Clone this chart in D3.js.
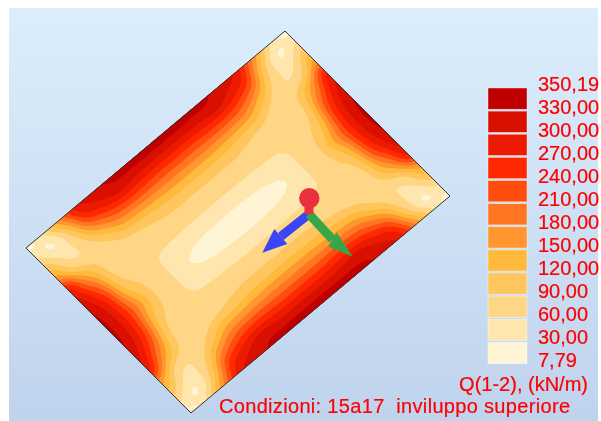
<!DOCTYPE html>
<html><head><meta charset="utf-8">
<script src="https://cdn.jsdelivr.net/npm/d3@7"></script>
<style>
html,body{margin:0;padding:0;background:#fff}
svg{display:block;filter:blur(0.35px)}
text{font-family:"Liberation Sans",Arial,sans-serif;fill:#ff0000;stroke:#ff0000;stroke-width:.2px;font-size:20px;white-space:pre}
</style></head><body>
<svg id="c" width="601" height="421"></svg>
<script>
const legendLabels=["350,19","330,00","300,00","270,00","240,00","210,00","180,00","150,00","120,00","90,00","60,00","30,00","7,79"];
const thresholds=[30,60,90,120,150,180,210,240,270,300,330];
const bandColors=["#FFF4D3","#FFE6AE","#FFD685","#FFC65E","#FFB93D","#FF962E","#FF7522","#FF4D0D","#FF2800","#EB1A00","#D90F00","#C00000"];
const titleUnit="Q(1-2), (kN/m)";
const titleCond="Condizioni: 15a17  inviluppo superiore";
// Estimated Q on one quarter of the plate: rows = |s| 0..1 (long axis), columns = |t| 0..1 (short axis)
const knots=[0,.125,.25,.375,.5,.625,.75,.875,1];
const quarterValues=[
 [10,33,59,78,112,168,232,300,350],
 [12,34,59,78,112,168,232,300,349],
 [18,36,60,78,110,165,236,303,345],
 [31,45,61,75,100,160,236,310,334],
 [60,60,63,70,90,148,218,285,318],
 [80,78,74,72,76,100,165,240,285],
 [155,132,108,92,82,66,78,110,170],
 [268,262,245,205,150,80,52,28,60],
 [338,335,325,305,270,170,108,58,18]
];
const svg=d3.select("#c");
const defs=svg.append("defs");
const grad=defs.append("linearGradient").attr("id","bg").attr("x1",0).attr("x2",0).attr("y1",0).attr("y2",1);
grad.append("stop").attr("offset",0).attr("stop-color","#DCEEFB");
grad.append("stop").attr("offset",1).attr("stop-color","#C0D3ED");
svg.append("rect").attr("x",9).attr("y",8).attr("width",589).attr("height",413).attr("fill","url(#bg)");
const sX=d3.scaleLinear([-1,1],[-129.5,129.5]), sY=d3.scaleLinear([-1,1],[108.5,-108.5]);
const tX=d3.scaleLinear([-1,1],[-82.5,82.5]), tY=d3.scaleLinear([-1,1],[-82.5,82.5]);
const cx=238,cy=222;
const px=(s,t)=>[cx+sX(s)+tX(t),cy+sY(s)+tY(t)];
const K=knots.length-1;
const val=(i,j)=>quarterValues[Math.min(Math.abs(i),K)][Math.min(Math.abs(j),K)];
function cr(p0,p1,p2,p3,f){return .5*(2*p1+(p2-p0)*f+(2*p0-5*p1+4*p2-p3)*f*f+(3*p1-p0-3*p2+p3)*f*f*f);}
const step=8, n=2*K*step+1;
const field=new Float64Array(n*n);
for(let a=0;a<n;a++){
  const gi=a/step-K, i=Math.min(Math.floor(gi),K-1), fi=gi-i;
  for(let b=0;b<n;b++){
    const gj=b/step-K, j=Math.min(Math.floor(gj),K-1), fj=gj-j;
    const rows=[-1,0,1,2].map(d=>cr(val(i+d,j-1),val(i+d,j),val(i+d,j+1),val(i+d,j+2),fj));
    field[b*n+a]=cr(rows[0],rows[1],rows[2],rows[3],fi);
  }
}
const corners=[px(-1,-1),px(1,-1),px(1,1),px(-1,1)];
defs.append("clipPath").attr("id","plate").append("polygon").attr("points",corners.join(" "));
const contours=d3.contours().size([n,n]).smooth(true).thresholds(thresholds)(Array.from(field));
const gridS=d3.scaleLinear([0.5,n-0.5],[-1,1]);
const proj=d3.geoTransform({point(x,y){const q=px(gridS(x),gridS(y));this.stream.point(q[0],q[1]);}});
const path=d3.geoPath(proj);
const g=svg.append("g").attr("clip-path","url(#plate)");
g.append("polygon").attr("points",corners.join(" ")).attr("fill",bandColors[0]);
g.selectAll("path").data(contours).join("path").attr("d",path).attr("fill",(d,i)=>bandColors[i+1]);
svg.append("polygon").attr("points",corners.join(" ")).attr("fill","none").attr("stroke","#333").attr("stroke-width",1);
const tri=svg.append("g");
function arrow(x0,y0,tip,base1,base2,col){
  const bx=(base1[0]+base2[0])/2,by=(base1[1]+base2[1])/2;
  tri.append("line").attr("x1",x0).attr("y1",y0).attr("x2",bx).attr("y2",by).attr("stroke",col).attr("stroke-width",9);
  tri.append("polygon").attr("points",[tip,base1,base2].join(" ")).attr("fill",col);
}
arrow(309,214,[262.3,252.7],[274.3,229],[287.3,244],"#3B45F5");
arrow(309,214,[352.7,256.7],[336.7,232.3],[328.3,246.7],"#36A648");
tri.append("line").attr("x1",309).attr("y1",198).attr("x2",309).attr("y2",214).attr("stroke","#E8323F").attr("stroke-width",9);
tri.append("circle").attr("cx",309.3).attr("cy",198.3).attr("r",10.2).attr("fill","#E8323F");
const yLab=d3.scaleLinear([0,legendLabels.length-1],[91,367]);
const ySw=d3.scaleLinear([0,11],[88,342.3]);
const lg=svg.append("g");
lg.selectAll("rect").data(bandColors.slice().reverse()).join("rect")
  .attr("x",488).attr("width",39).attr("y",(d,i)=>ySw(i)).attr("height",21.3)
  .attr("fill",d=>d).attr("stroke","#fff").attr("stroke-opacity",.5).attr("stroke-width",.8);
lg.selectAll("text").data(legendLabels).join("text").attr("x",538).attr("y",(d,i)=>yLab(i)).text(d=>d);
svg.append("text").attr("x",588).attr("y",391).attr("text-anchor","end").text(titleUnit);
svg.append("text").attr("x",219).attr("y",413).attr("textLength",351).attr("lengthAdjust","spacing").text(titleCond);
</script>
</body></html>
